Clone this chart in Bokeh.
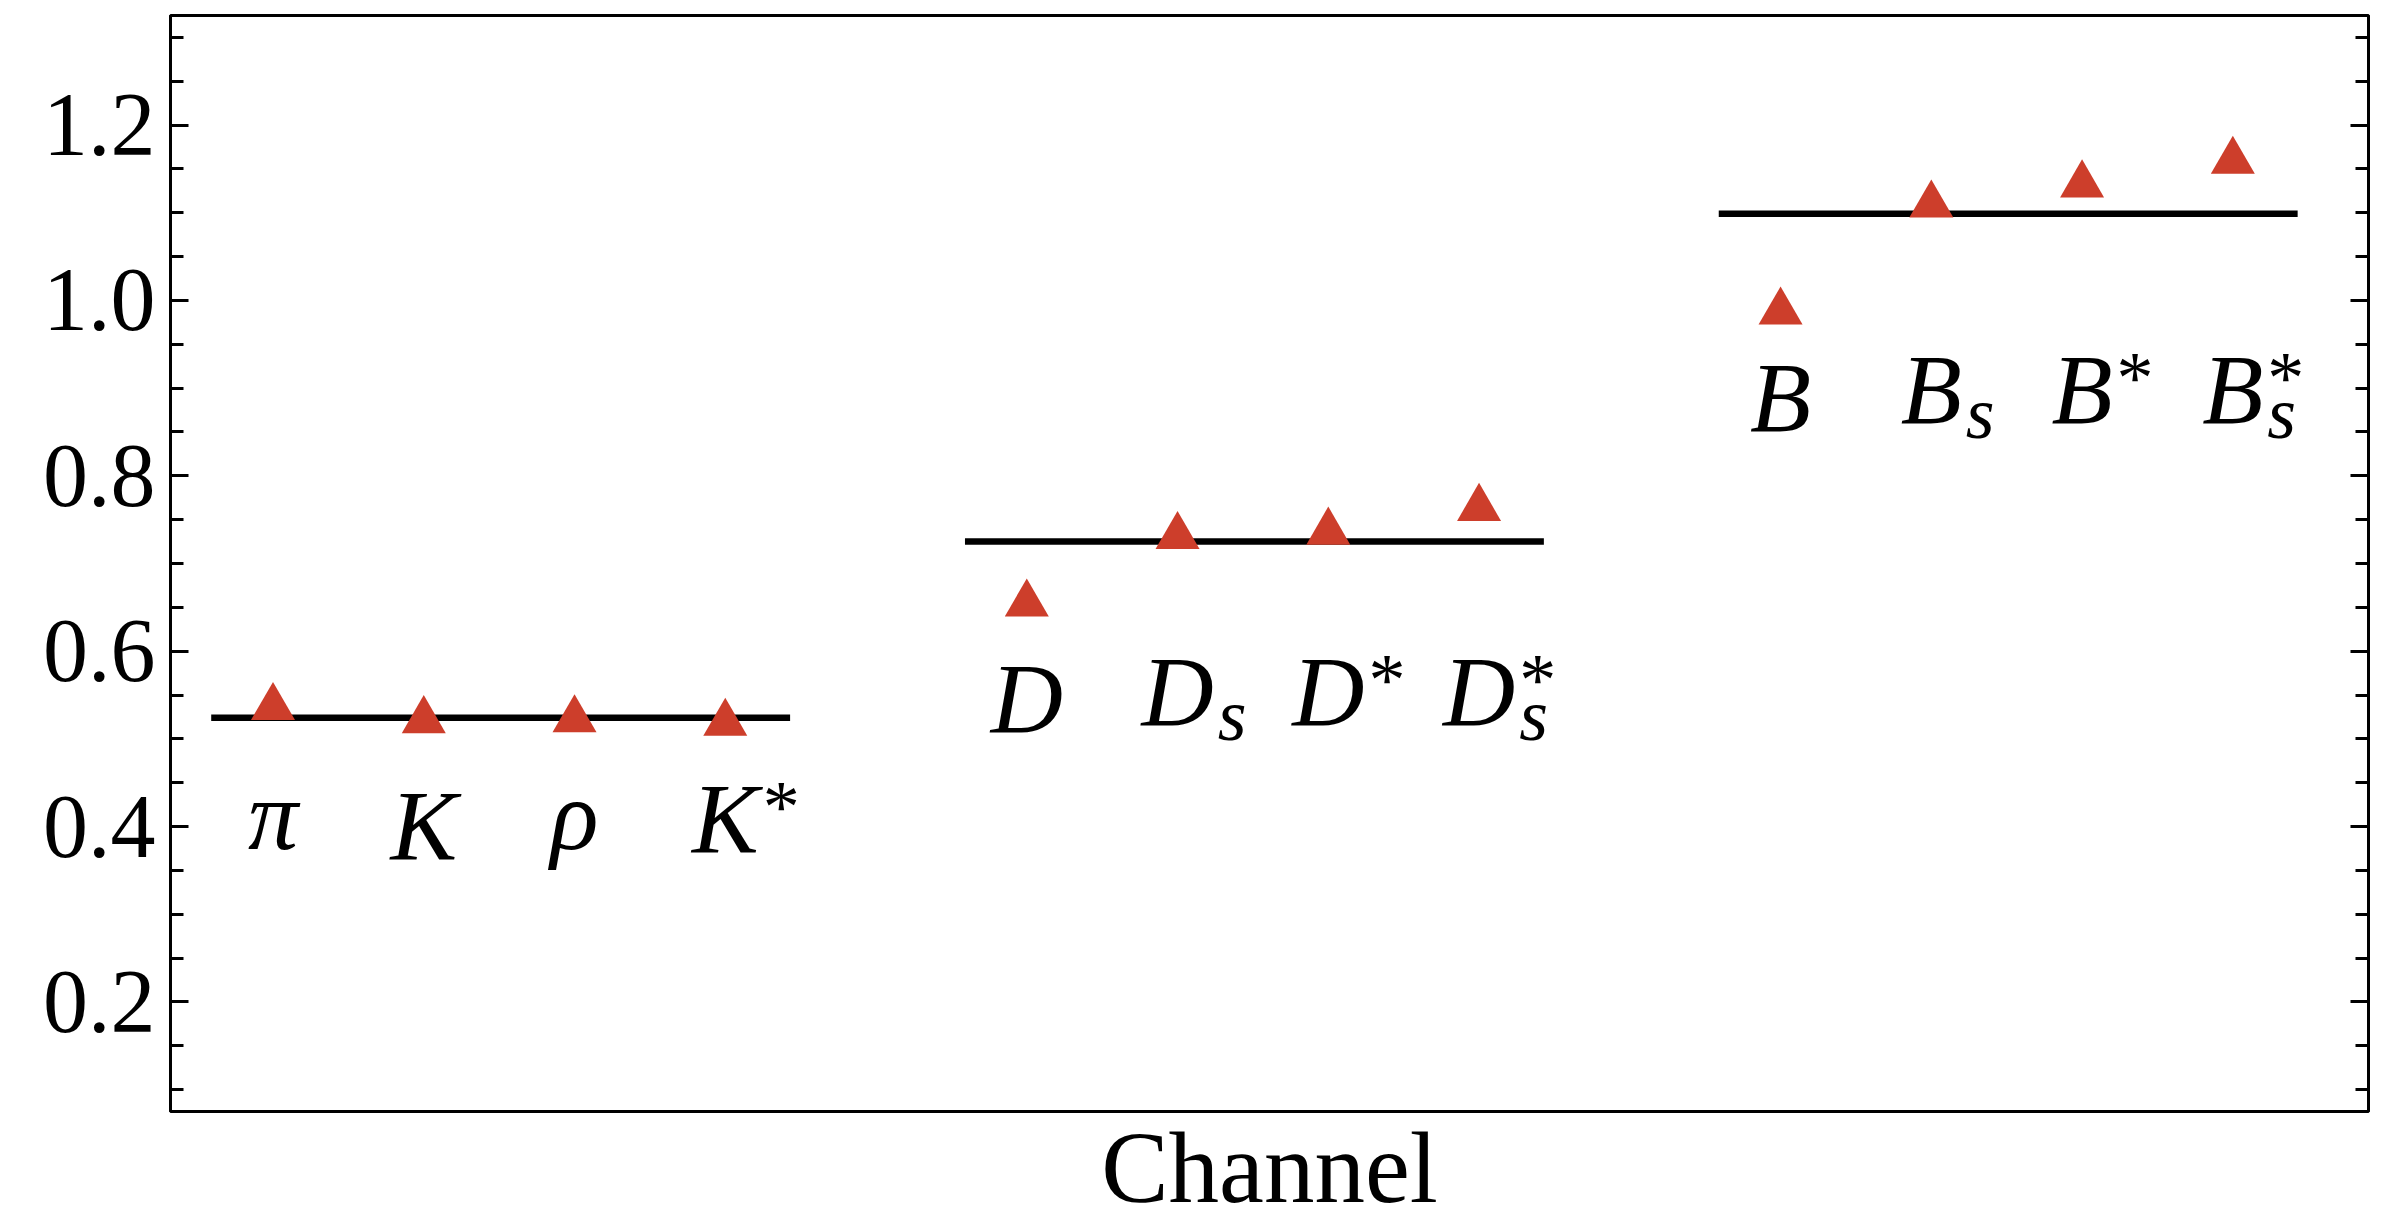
from bokeh.plotting import figure
from bokeh.models import (Range1d, LinearAxis, FixedTicker, PrintfTickFormatter,
                          ColumnDataSource)
from bokeh.core.properties import value
from bokeh.embed import file_html
from bokeh.resources import INLINE

# Meson families along the horizontal axis, four channels each
families = ["light", "charm", "bottom"]
base_symbols = [["π", "K", "ρ", "K"], ["D", "D", "D", "D"], ["B", "B", "B", "B"]]
subscripts = [["", "", "", ""], ["", "s", "", "s"], ["", "s", "", "s"]]
superscripts = [["", "", "", "*"], ["", "", "*", "*"], ["", "", "*", "*"]]

# Ratio per channel (triangles) and the common level of each family (bars)
ratios = [[0.536, 0.521, 0.522, 0.518],
          [0.654, 0.731, 0.736, 0.763],
          [0.987, 1.109, 1.132, 1.159]]
family_level = [0.524, 0.725, 1.099]

y_ticks = [0.2, 0.4, 0.6, 0.8, 1.0, 1.2]
x_title = "Channel"

# Heights at which the channel names are centred, one per family
label_level = [0.400, 0.545, 0.889]

RED = "#cd3e2b"
SERIF = "Liberation Serif, serif"
BASE_PX = 100
SCRIPT_PX = 74
MID = 0.3375  # em-box middle above the baseline

# Rough ink top (em) and advance width (em) of the italic base letters
glyph_top = {"π": 0.45, "ρ": 0.45, "K": 0.66, "D": 0.66, "B": 0.66}
glyph_adv = {"π": 0.50, "ρ": 0.50, "K": 0.667, "D": 0.722, "B": 0.611}

X_START, X_END = 0.32, 14.90
Y_START, Y_END = 0.075, 1.325

p = figure(width=2384, height=1226,
           x_range=Range1d(X_START, X_END), y_range=Range1d(Y_START, Y_END),
           output_backend="svg", toolbar_location=None, x_axis_location="below",
           min_border_left=170, min_border_right=16,
           min_border_top=15, min_border_bottom=115)
p.grid.visible = False
p.background_fill_color = "white"
p.border_fill_color = "white"
p.outline_line_color = "black"
p.outline_line_width = 3
p.outline_line_alpha = 1.0

# Positions: four channels per family, one empty slot between families
xs, ys = [], []
seg_x0, seg_x1, seg_y = [], [], []
base_txt, base_x, base_y, base_off = [], [], [], []
sub_txt, sub_x, sub_y, sub_xoff, sub_yoff = [], [], [], [], []
sup_txt, sup_x, sup_y, sup_xoff, sup_yoff = [], [], [], [], []

for g, fam in enumerate(families):
    fam_x = [5 * g + i + 1 for i in range(len(ratios[g]))]
    xs += fam_x
    ys += ratios[g]
    seg_x0.append(fam_x[0] - 0.41)
    seg_x1.append(fam_x[-1] + 0.43)
    seg_y.append(family_level[g])
    for i, x in enumerate(fam_x):
        b = base_symbols[g][i]
        sub = subscripts[g][i]
        sup = superscripts[g][i]
        top = glyph_top[b] * BASE_PX
        bottom = -15 if (sub or sup) else 0
        baseline = (top + bottom) / 2.0  # px below the label centre
        base_txt.append(b)
        base_x.append(x)
        base_y.append(label_level[g])
        base_off.append(baseline - MID * BASE_PX)
        xoff = glyph_adv[b] * BASE_PX / 2.0 + 4
        if sub:
            sub_txt.append(sub)
            sub_x.append(x)
            sub_y.append(label_level[g])
            sub_xoff.append(xoff)
            sub_yoff.append(baseline + 15 - MID * SCRIPT_PX)
        if sup:
            sup_txt.append(sup)
            sup_x.append(x)
            sup_y.append(label_level[g])
            sup_xoff.append(xoff)
            sup_yoff.append(baseline - 20 - MID * SCRIPT_PX)

# Family levels
p.segment(x0=seg_x0, y0=seg_y, x1=seg_x1, y1=seg_y, line_color="black", line_width=6.5)

# Channel ratios
p.scatter(x=xs, y=ys, marker="triangle", size=44, fill_color=RED, line_color=None)

# Channel names: base letter, subscript and superscript
p.text(x="x", y="y", text="t", y_offset="yo",
       source=ColumnDataSource(dict(x=base_x, y=base_y, t=base_txt, yo=base_off)),
       text_font=value(SERIF), text_font_style="italic", text_font_size=f"{BASE_PX}px",
       text_align="center", text_baseline="middle", text_color="black")
p.text(x="x", y="y", text="t", x_offset="xo", y_offset="yo",
       source=ColumnDataSource(dict(x=sub_x, y=sub_y, t=sub_txt, xo=sub_xoff, yo=sub_yoff)),
       text_font=value(SERIF), text_font_style="italic", text_font_size=f"{SCRIPT_PX}px",
       text_align="left", text_baseline="middle", text_color="black")
p.text(x="x", y="y", text="t", x_offset="xo", y_offset="yo",
       source=ColumnDataSource(dict(x=sup_x, y=sup_y, t=sup_txt, xo=sup_xoff, yo=sup_yoff)),
       text_font=value(SERIF), text_font_style="normal", text_font_size=f"{SCRIPT_PX}px",
       text_align="left", text_baseline="middle", text_color="black")

# Vertical axes: labelled on the left, mirrored ticks on the right
minor = [round(0.10 + 0.05 * k, 2) for k in range(25)]
minor = [m for m in minor if m not in y_ticks]


def style_axis(ax):
    ax.ticker = FixedTicker(ticks=y_ticks, minor_ticks=minor)
    ax.formatter = PrintfTickFormatter(format="%.1f")
    ax.axis_line_color = "black"
    ax.axis_line_width = 3
    ax.major_tick_in = 18
    ax.major_tick_out = 0
    ax.minor_tick_in = 13
    ax.minor_tick_out = 0
    ax.major_tick_line_color = "black"
    ax.major_tick_line_width = 3
    ax.minor_tick_line_color = "black"
    ax.minor_tick_line_width = 3


left = p.yaxis[0]
style_axis(left)
left.major_label_text_font = "Liberation Serif"
left.major_label_text_font_size = "90px"
left.major_label_text_color = "black"
left.major_label_standoff = 15

right = LinearAxis()
style_axis(right)
right.major_label_text_font_size = "1px"
right.major_label_text_color = None
right.major_label_standoff = 0
p.add_layout(right, "right")

# Bottom axis carries only the title
bottom = p.xaxis[0]
bottom.ticker = FixedTicker(ticks=[])
bottom.axis_line_color = None
bottom.major_tick_in = 0
bottom.major_tick_out = 0
bottom.minor_tick_in = 0
bottom.minor_tick_out = 0
bottom.major_label_text_font_size = "1px"
bottom.major_label_text_color = None
bottom.major_label_standoff = 0
bottom.axis_label = x_title
bottom.axis_label_text_font = "Liberation Serif"
bottom.axis_label_text_font_style = "normal"
bottom.axis_label_text_font_size = "101px"
bottom.axis_label_text_color = "black"
bottom.axis_label_standoff = 0

open("out.html", "w").write(file_html(p, INLINE))
